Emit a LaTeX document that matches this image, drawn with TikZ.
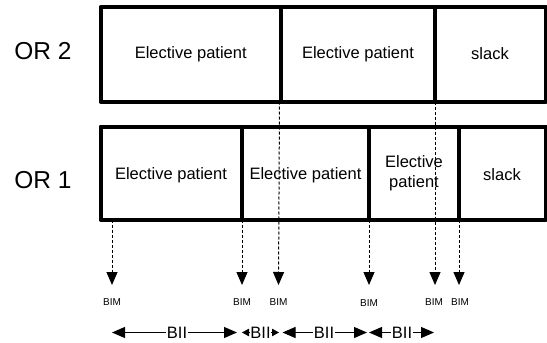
\documentclass[tikz,border=0pt]{standalone}
\usepackage{fontspec}
\setmainfont{Liberation Sans}
\usetikzlibrary{arrows.meta}

\begin{document}
\begin{tikzpicture}[x=1pt,y=-1pt,
  frame/.style={line width=4pt, line join=round},
  cell/.style={font=\fontsize{16.5}{19.5}\selectfont, align=center, inner sep=0pt},
  orlabel/.style={font=\fontsize{24.5}{28}\selectfont, inner sep=0pt},
  event/.style={line width=1pt, dash pattern=on 3pt off 2pt,
    -{Triangle[length=13pt,width=11pt]}},
  bimlabel/.style={font=\fontsize{10}{12}\selectfont, inner sep=0pt},
  interval/.style={line width=1pt,
    {Triangle[length=13pt,width=11pt]}-{Triangle[length=13pt,width=11pt]}},
  shortinterval/.style={line width=1pt,
    {Triangle[length=7pt,width=7.5pt]}-{Triangle[length=7pt,width=7.5pt]}},
  biilabel/.style={font=\fontsize{16.5}{19}\selectfont, fill=white, inner sep=0.6pt}
]
\useasboundingbox (0,0) rectangle (547,343);

% operating room labels
\node[orlabel] (or2) at (43,51) {OR 2};
\node[orlabel] (or1) at (43,180) {OR 1};

% OR 2 schedule
\draw[frame] (100.5,7) rectangle (545.5,101.5);
\draw[frame] (281,7) -- (281,101.5);
\draw[frame] (435,7) -- (435,101.5);
\node[cell] (p21) at (190.75,54) {Elective patient};
\node[cell] (p22) at (358,54) {Elective patient};
\node[cell] (s2)  at (490,54) {slack};

% OR 1 schedule
\draw[frame] (100.5,126.5) rectangle (545.5,219.5);
\draw[frame] (242,126.5) -- (242,219.5);
\draw[frame] (369,126.5) -- (369,219.5);
\draw[frame] (459,126.5) -- (459,219.5);
\node[cell] (p11) at (171,175) {Elective patient};
\node[cell] (p12) at (305.5,175) {Elective patient};
\node[cell] (p13) at (414,173) {Elective\\patient};
\node[cell] (s1)  at (502,175) {slack};

% event times: start points of the dashed markers
\coordinate (d1) at (112,219.5);
\coordinate (d2) at (242,219.5);
\coordinate (d3) at (279.5,101.5);
\coordinate (d4) at (369,219.5);
\coordinate (d5) at (435,101.5);
\coordinate (d6) at (459,219.5);

% arrow tips of the markers
\coordinate (a1) at (112,285);
\coordinate (a2) at (242,285);
\coordinate (a3) at (278.5,285);
\coordinate (a4) at (369,285);
\coordinate (a5) at (435,285);
\coordinate (a6) at (459,285);

\foreach \i in {1,...,6} \draw[event] (d\i) -- (a\i);

% BIM labels
\node[bimlabel] (b1) at (112,302) {BIM};
\node[bimlabel] (b2) at (242,302) {BIM};
\node[bimlabel] (b3) at (278.5,302) {BIM};
\node[bimlabel] (b4) at (369,303.5) {BIM};
\node[bimlabel] (b5) at (434,302) {BIM};
\node[bimlabel] (b6) at (460,302) {BIM};

% intervals between consecutive events
\coordinate (i1) at (112,332.5);
\coordinate (i2) at (242,332.5);
\coordinate (i3) at (279,332.5);
\coordinate (i4) at (369,332.5);
\coordinate (i5) at (435,332.5);

\draw[interval, shorten >=5pt] (i1) -- node[biilabel] (bii1) {BII} (i2);
\draw[shortinterval] (i2) -- node[biilabel] (bii2) {BII} (i3);
\draw[interval, shorten <=3.5pt, shorten >=2pt] (i3) -- node[biilabel] (bii3) {BII} (i4);
\draw[interval, shorten >=1pt] (i4) -- node[biilabel] (bii4) {BII} (i5);
\end{tikzpicture}
\end{document}
